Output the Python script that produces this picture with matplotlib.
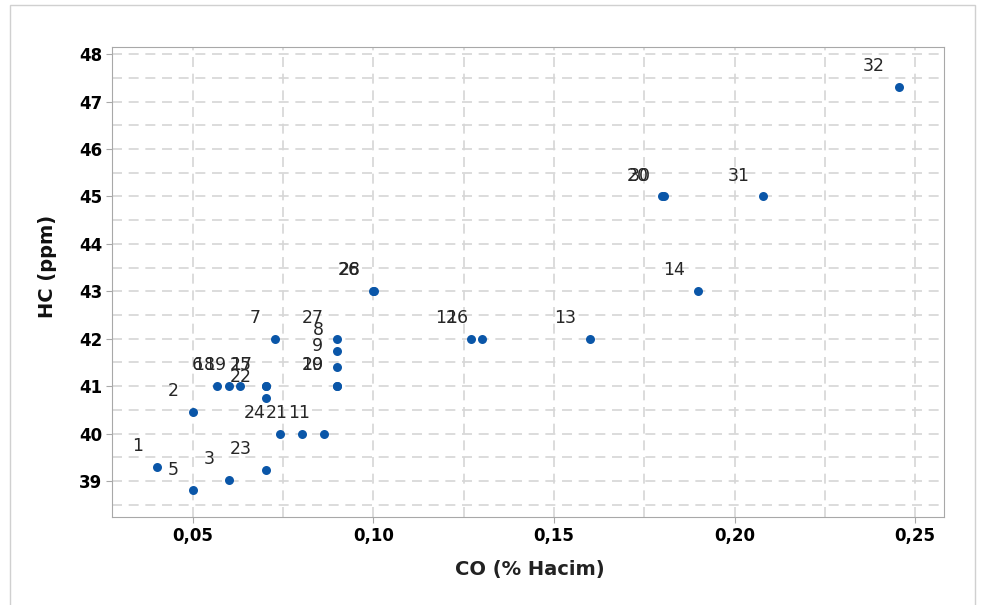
import matplotlib
matplotlib.use("Agg")
import matplotlib.pyplot as plt
from matplotlib.patches import Rectangle
from matplotlib.ticker import MultipleLocator, FuncFormatter

# CO (% hacim) / HC (ppm) ve nokta numaralari
labels = [1, 2, 3, 5, 6, 7, 8, 9, 10, 11, 12, 13, 14, 16, 17, 18,
          19, 20, 21, 22, 23, 24, 25, 26, 27, 28, 29, 30, 31, 32]
co = [0.040, 0.050, 0.060, 0.050, 0.0567, 0.0727, 0.090, 0.090, 0.090, 0.0863,
      0.127, 0.160, 0.190, 0.130, 0.0702, 0.060, 0.063, 0.180, 0.0801, 0.0702,
      0.0702, 0.0741, 0.0702, 0.100, 0.090, 0.1002, 0.090, 0.1805, 0.208, 0.2455]
hc = [39.29, 40.45, 39.03, 38.80, 41.0, 42.0, 41.75, 41.41, 41.0, 40.0,
      42.0, 42.0, 43.0, 42.0, 41.0, 41.0, 41.0, 45.0, 40.0, 40.75,
      39.23, 40.0, 41.0, 43.0, 42.0, 43.0, 41.0, 45.0, 45.0, 47.3]

fig = plt.figure(figsize=(9.85, 6.05), dpi=100)
ax = fig.add_axes([112/985, 1 - 517/605, 832/985, 470/605])

# dis cerceve
fig.patches.append(Rectangle((10/985, -0.1), 965/985, 1.092, transform=fig.transFigure,
                             fill=False, edgecolor="#d0d0d0", linewidth=1))

ax.scatter(co, hc, s=42, color="#0a56a8", zorder=3, linewidths=0)
for lab, x, y in zip(labels, co, hc):
    ax.annotate(str(lab), (x, y), xytext=(-10, 15), textcoords="offset points",
                ha="right", va="center", fontsize=12.5, color="#262626", zorder=4)

ax.set_xlim(0.0276, 0.258)
ax.set_ylim(38.24, 48.15)
ax.xaxis.set_major_locator(MultipleLocator(0.05))
ax.xaxis.set_minor_locator(MultipleLocator(0.025))
ax.yaxis.set_major_locator(MultipleLocator(1))
ax.yaxis.set_minor_locator(MultipleLocator(0.5))
ax.xaxis.set_major_formatter(FuncFormatter(lambda v, p: ("%.2f" % v).replace(".", ",")))

ax.grid(which="both", color="#d6d6d6", linestyle=(0, (6, 4)), linewidth=1.2, zorder=0)
ax.set_axisbelow(True)
for sp in ax.spines.values():
    sp.set_color("#a8a8a8")
ax.tick_params(which="major", direction="out", length=4, color="#a8a8a8",
               labelsize=12, pad=3)
ax.tick_params(which="minor", length=0)
for t in ax.get_xticklabels() + ax.get_yticklabels():
    t.set_fontweight("bold")

ax.set_xlabel("CO (% Hacim)", fontsize=14, fontweight="bold", color="#222222")
ax.set_ylabel("HC (ppm)", fontsize=14, fontweight="bold", color="#111111")
ax.xaxis.set_label_coords(0.502, -0.092)
ax.yaxis.set_label_coords(-0.066, 0.534)

fig.savefig("out.png", dpi=100, facecolor="white")
